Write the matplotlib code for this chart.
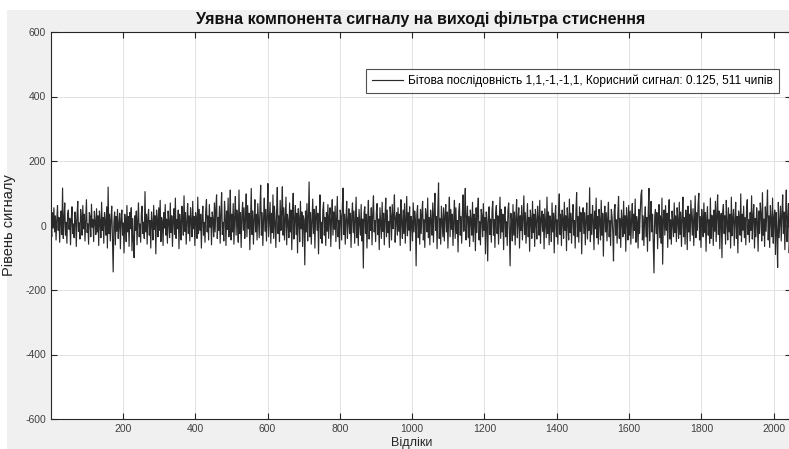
import numpy as np
import matplotlib.pyplot as plt
from matplotlib.patches import Rectangle

plt.rcParams['font.family'] = ['Liberation Sans', 'DejaVu Sans']
plt.rcParams['axes.unicode_minus'] = False

# відліки (кожен другий відлік, значення оцінені з рисунка)
samples = np.arange(1, 2048, 2)
signal_rows = [
    [12, -35, 40, -8, 55, -20, 30, -45, 18, 62, -15, 25, -52, 8, 45, -28, 116, -40, 20, 70, -30, 10, -55, 35, 48, -12, 22, -60, 15, 58, -25, 5],
    [-38, 42, 20, -65, 30, 75, -18, 8, -42, 50, 25, -30, 62, -10, 35, -48, 15, 80, -22, 5, -58, 40, 28, -35, 66, -5, 18, -50, 44, 12, -28, 52],
    [-20, 30, -62, 45, 10, -38, 72, -15, 25, -55, 40, 15, -30, 58, -70, 119, -25, 35, -48, 20, 60, -35, -144, 10, 42, -60, 28, -18, 50, -40, 5, 38],
    [-72, 20, 48, -30, 8, -85, 35, 15, -50, 62, -20, 28, -65, 40, -10, 55, -78, 22, -45, -100, 30, -15, 45, -60, 18, 70, -35, 5, -52, 38, 60, -25],
    [10, -40, 105, -20, 35, -58, 25, 50, -30, 15, -70, 42, 8, -45, 62, -12, 30, -88, 48, 20, -35, 55, -15, 78, -50, 25, 12, -62, 40, -8, 65, -30],
    [20, -55, 45, 10, -38, 70, -22, 30, -65, 15, 52, -28, 85, -40, 18, -10, 48, -72, 35, 5, -45, 60, 25, -30, 92, -18, 40, -58, 12, 68, -25, 30],
    [-48, 55, 15, -35, 75, -10, 28, -62, 40, 20, -40, 88, -25, 50, -15, 35, -70, 22, 60, -30, 10, -52, 45, 80, -20, 30, -45, 65, -5, 25, -60, 42],
    [18, -35, 70, -20, 52, 95, -40, 25, -15, 60, -55, 38, 102, -28, 10, -48, 75, 30, -62, 45, -12, 85, -35, 20, 110, -45, 35, -20, 68, -58, 28, 90],
    [-30, 48, 15, -52, 110, -25, 40, -68, 30, 72, -15, 55, -40, 20, 98, -35, 62, -10, 38, -75, 25, 115, -28, 45, -58, 18, 80, -20, 35, -45, 68, 12],
    [-38, 55, 125, -30, 40, -62, 20, 85, -18, 50, -48, 28, 130, -35, 15, 72, -55, 38, -22, 95, -40, 60, 10, -68, 45, 118, -25, 30, -50, 78, -15, 40],
    [120, -30, 55, -45, 22, 88, -60, 35, 10, -38, 70, -20, 48, -75, 28, 100, -42, 15, 62, -28, 38, -85, 52, 20, -50, 75, -10, 42, -65, 30, 18, -122],
    [45, -20, 68, -48, 25, 135, -35, 40, -58, 15, 82, -25, 50, -70, 30, 60, -15, 38, -88, 22, 95, -40, 10, -55, 48, 72, -30, 25, -62, 40, -18, 65],
    [-40, 28, 55, -65, 18, 80, -30, 42, -12, 60, -50, 25, 90, -35, 15, -72, 48, 30, -45, 62, 116, -28, 35, -58, 20, 75, -40, 10, 52, -25, 38, -68],
    [30, 70, -22, 45, -55, 15, 88, -38, 25, -62, 50, 12, -30, 65, -48, 20, -132, 40, 58, -25, 35, -70, 18, 78, -42, 28, -15, 55, -60, 38, 92, -20],
    [15, -50, 42, 68, -28, 20, -75, 55, 8, -40, 72, -18, 38, -60, 25, 85, -35, 48, -22, 12, -68, 58, 30, -45, 65, -10, 28, 95, -52, 20, 40, -30],
    [55, -18, 35, -62, 80, 10, -40, 48, -25, 68, -55, 22, 90, -32, 40, -15, 58, -78, 28, 12, -48, 70, -20, 45, 18, -125, 35, 62, -38, 20, -58, 50],
    [-25, 40, 75, -45, 18, -68, 52, 30, -20, 85, -38, 25, -60, 48, 15, -30, 70, -52, 38, 100, -15, 28, -72, 45, 132, -40, 22, -58, 60, 10, -35, 55],
    [-48, 30, 65, -20, 42, -70, 25, 88, -35, 50, -12, 35, -62, 20, 78, -40, 55, -25, 15, -82, 45, 68, -30, 28, -55, 40, 95, -18, 35, 115, -45, 22],
    [60, -38, 28, -65, 48, 15, -30, 72, -50, 35, 20, -78, 55, -22, 40, 85, -45, 12, -60, 50, 30, -35, 68, -15, 25, -88, 42, 10, -110, 38, 58, -28],
    [20, -52, 45, 75, -30, 18, -68, 40, 62, -25, 30, -58, 15, 88, -40, 50, -20, 35, -75, 28, 58, -35, 12, -62, 45, 70, -18, -125, 38, 20, -48, 65],
    [-30, 42, -60, 25, 80, -38, 15, 55, -70, 30, -15, 62, -45, 20, 92, -28, 40, -55, 10, 68, -35, 25, -80, 48, 18, -40, 75, -22, 35, -65, 50, 12],
    [-42, 60, 25, -30, 78, -55, 20, 45, -18, 35, -72, 52, 10, -38, 88, -25, 42, -60, 30, 15, -50, 70, -20, 38, -85, 28, 62, -35, 18, -58, 45, 98],
    [-28, 35, -62, 48, 20, -40, 72, -15, 30, -78, 55, 12, -45, 82, -22, 38, -55, 25, 65, -30, 15, -70, 42, 102, -35, 28, -52, 58, -18, 40, -88, 30],
    [55, -25, 40, -60, 18, 70, -42, 30, -15, 117, -50, 35, -28, 62, 20, -75, 45, -10, 85, -38, 28, -58, 50, 15, -45, 78, -30, 38, -95, 22, 60, -20],
    [40, -48, 25, 72, -35, 15, -62, 50, 28, -20, -110, 45, 65, -30, 18, -55, 38, 90, -40, 22, -68, 48, 12, -35, 75, -25, 30, -80, 55, 20, -45, 62],
    [-30, 45, -58, 20, 68, -40, 35, -15, 82, -52, 28, 10, -70, 50, -25, 40, 95, 110, -45, 30, -62, 18, 58, -35, 25, -80, 40, 115, -48, 22, 75, -20],
    [35, -60, -147, 28, 50, -25, 40, -72, 15, 65, -38, 30, -55, 85, -120, 20, 48, -30, 62, -15, 38, -68, 25, 80, -42, 18, -58, 45, 10, -35, 70, -22],
    [30, -50, 55, 15, -40, 72, -28, 42, -65, 20, 88, -35, 25, -58, 48, 12, -75, 60, -20, 35, -48, 78, 22, -30, 52, -62, 18, 92, -38, 40, -15, 65],
    [100, -45, 28, -68, 50, 15, -35, 70, -22, 40, -80, 25, 58, -30, 18, -55, 85, -40, 32, 12, -62, 48, -18, 75, -50, 30, 95, -28, 45, -72, 20, 38],
    [-100, 42, 65, -25, 30, -58, 78, 10, -45, 55, -20, 35, -70, 88, -32, 22, 50, -62, 15, 72, -40, 28, -85, 45, 18, -30, 98, -50, 35, -15, 60, -38],
    [25, -60, 48, 80, -28, 18, -52, 40, -15, 92, -42, 30, 65, -70, 22, -35, 55, 12, -80, 45, -25, 70, 35, -48, 102, -30, 20, -65, 58, -18, 40, 110],
    [-45, 30, -68, 62, 18, -35, 85, -55, 25, 48, -90, 40, -20, -130, 72, -38, 15, 60, -48, 35, 95, -25, 42, -75, 28, 110, -50, 20, 68, -85, -40, 45],
]
signal = np.concatenate(signal_rows)

x_ticks = [200, 400, 600, 800, 1000, 1200, 1400, 1600, 1800, 2000]
y_ticks = [-600, -400, -200, 0, 200, 400, 600]
legend_label = 'Бітова послідовність 1,1,-1,-1,1, Корисний сигнал: 0.125, 511 чипів'

fig = plt.figure(figsize=(7.89, 4.49), dpi=100, facecolor='white')
# сірий фон вікна (під осями)
bg = Rectangle((7 / 789, 0), 1, 439 / 449, transform=fig.transFigure,
               facecolor='#f0f0f0', edgecolor='none', zorder=-10)
fig.add_artist(bg)

ax = fig.add_axes([51 / 789, 30 / 449, 740 / 789, 387 / 449])
ax.set_zorder(1)
ax.set_facecolor('white')
ax.plot(samples, signal, color='#2a2a2a', linewidth=0.85, label=legend_label)

ax.set_xlim(1, 2048)
ax.set_ylim(-600, 600)
ax.set_xticks(x_ticks)
ax.set_yticks(y_ticks)
ax.grid(True, color='#e2e2e2', linewidth=0.7)
ax.set_axisbelow(True)
ax.tick_params(direction='in', length=4, width=0.8, colors='#262626',
               labelcolor='#404040', labelsize=7.5, top=True, right=True)
for s in ax.spines.values():
    s.set_color('#262626')
    s.set_linewidth(0.8)

ax.set_title('Уявна компонента сигналу на виході фільтра стиснення',
             fontsize=11.5, fontweight='bold', color='#111111', pad=6)
ax.set_xlabel('Відліки', fontsize=9, color='#262626')
ax.xaxis.set_label_coords(0.488, -0.046)
ax.set_ylabel('Рівень сигналу', fontsize=10.5, color='#262626')
ax.yaxis.set_label_coords(-0.047, 0.5)

leg = ax.legend(loc='upper right', bbox_to_anchor=(734 / 740, 1 - 31 / 387),
                fontsize=8.6, frameon=True, fancybox=False, handlelength=2.6,
                borderpad=0.5, handletextpad=0.4)
leg.get_frame().set_edgecolor('#262626')
leg.get_frame().set_linewidth(0.8)

fig.savefig('out.png', dpi=100, facecolor=fig.get_facecolor())
